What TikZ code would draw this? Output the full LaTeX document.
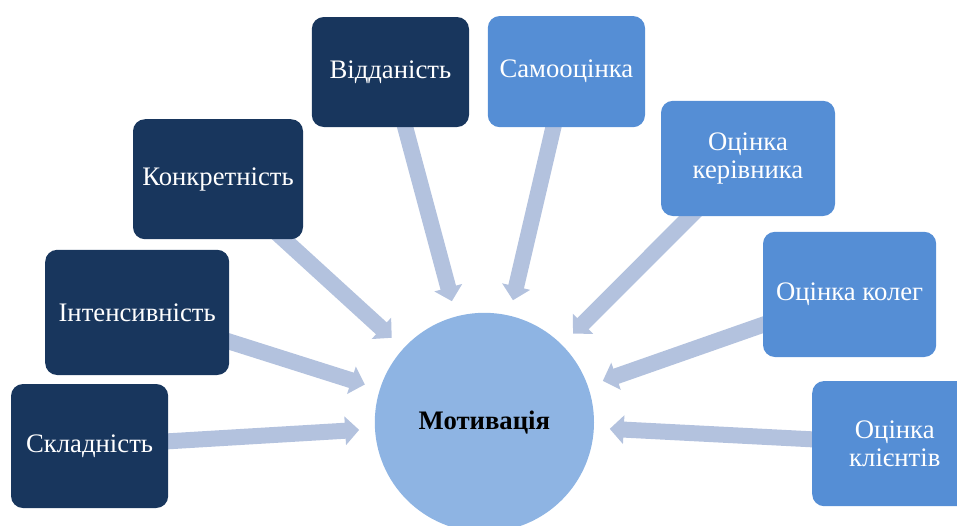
\documentclass[tikz,border=0pt]{standalone}
\usepackage{fontspec}
\setmainfont{Liberation Serif}
\usetikzlibrary{arrows.meta, positioning, backgrounds}
\definecolor{navycolor}{RGB}{24,54,93}
\definecolor{bluecolor}{RGB}{85,142,213}
\definecolor{circcolor}{RGB}{142,180,227}
\definecolor{arrowcolor}{RGB}{179,194,222}

\begin{document}
\begin{tikzpicture}[
    factor/.style={draw=none, fill=#1, rounded corners=0.3cm, text=white, align=center,
        font=\fontsize{19}{20}\selectfont, inner sep=2pt},
    arrow/.style={-{Triangle[length=3.5mm, width=7mm]}, line width=0.4cm, draw=arrowcolor,
        shorten >=0.39cm}
]
    \useasboundingbox (0,0) rectangle (23.925,-13.125);

    % Centre
    \node[circle, fill=circcolor, minimum size=5.48cm, font=\fontsize{19}{20}\selectfont\bfseries] (motiv) at (12.11,-10.56) {Мотивація};

    % Left side
    \node[factor=navycolor, minimum width=3.93cm, minimum height=3.1cm] (skl) at (2.24,-11.15) {Складність};
    \node[factor=navycolor, minimum width=4.6cm, minimum height=3.13cm] (intens) at (3.43,-7.81) {Інтенсивність};
    \node[factor=navycolor, minimum width=4.25cm, minimum height=3.0cm] (konkr) at (5.45,-4.48) {Конкретність};
    \node[factor=navycolor, minimum width=3.93cm, minimum height=2.75cm] (vidd) at (9.76,-1.8) {Відданість};

    % Right side
    \node[factor=bluecolor, minimum width=3.93cm, minimum height=2.78cm] (samo) at (14.16,-1.79) {Самооцінка};
    \node[factor=bluecolor, minimum width=4.35cm, minimum height=2.88cm] (kerivn) at (18.7,-3.96) {Оцінка\\керівника};
    \node[factor=bluecolor, minimum width=4.33cm, minimum height=3.13cm] (koleg) at (21.24,-7.36) {Оцінка колег};
    \node[factor=bluecolor, minimum width=4.13cm, minimum height=3.13cm] (klient) at (22.37,-11.09) {Оцінка\\клієнтів};

    % Arrows
    \begin{scope}[on background layer]
        \foreach \src in {skl, intens, konkr, vidd, samo, kerivn, koleg, klient}
            \draw[arrow] (\src.center) -- (motiv);
    \end{scope}
\end{tikzpicture}
\end{document}
